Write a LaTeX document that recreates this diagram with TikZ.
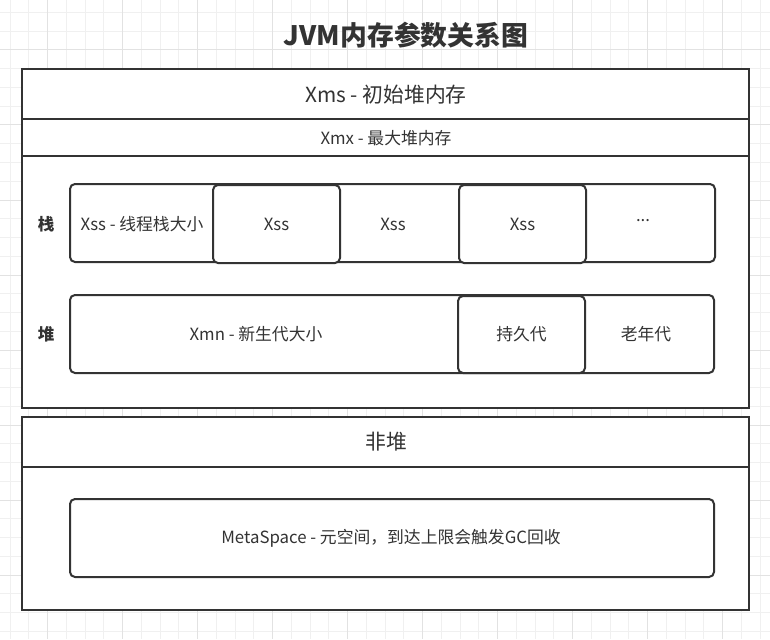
\documentclass[tikz,border=0pt]{standalone}
\usepackage{fontspec}
\setmainfont{Noto Sans CJK SC}
\begin{document}
\begin{tikzpicture}[x=1pt,y=-1pt,
  box/.style={draw=linec,line width=2pt,fill=white,inner sep=0pt,rectangle},
  rbox/.style={box,rounded corners=5pt},
  txt/.style={text=textc,font=\fontsize{16.8}{19}\selectfont},
  bigtxt/.style={text=textc,font=\fontsize{20.8}{24}\selectfont},
  lbl/.style={text=textc,font=\fontsize{16.5}{19}\selectfont\bfseries},
  minorgrid/.style={draw=gridminor,line width=1pt},
  majorgrid/.style={draw=gridmajor,line width=1pt}]
\definecolor{linec}{HTML}{333333}
\definecolor{textc}{HTML}{333333}
\definecolor{gridminor}{HTML}{F0F0F0}
\definecolor{gridmajor}{HTML}{E2E2E2}
\useasboundingbox (0,0) rectangle (770,639);
\fill[white] (0,0) rectangle (770,639);
% grid
\foreach \i in {0,...,40} {\draw[minorgrid] (10+\i*18.75,0) -- (10+\i*18.75,639);}
\foreach \i in {0,...,33} {\draw[minorgrid] (0,12.5+\i*18.75) -- (770,12.5+\i*18.75);}
\foreach \i in {0,...,9} {\draw[majorgrid] (47.5+\i*75,0) -- (47.5+\i*75,639);}
\foreach \i in {0,...,8} {\draw[majorgrid] (0,50+\i*75) -- (770,50+\i*75);}
% title
\node[text=textc,font=\fontsize{26.8}{30}\selectfont\bfseries] (title) at (406,35) {JVM内存参数关系图};
% heap box
\node[box,minimum width=727pt,minimum height=339pt] (jvm) at (385.5,238.5) {};
\node[box,minimum width=727pt,minimum height=50pt] (xms) at (385.5,94) {};
\node[bigtxt] (xmst) at (386,95) {Xms - 初始堆内存};
\node[box,minimum width=727pt,minimum height=37pt] (xmx) at (385.5,137.5) {};
\node[txt] (xmxt) at (386,138) {Xmx - 最大堆内存};
% stack row
\node[lbl] (zhan) at (46,224) {栈};
\node[rbox,minimum width=645pt,minimum height=78pt] (stack) at (392.5,223) {};
\node[txt] (xss0) at (142,224) {Xss - 线程栈大小};
\node[rbox,minimum width=127pt,minimum height=78pt] (xss1) at (276.5,224) {};
\node[txt] at (xss1) {Xss};
\node[txt] (xss2) at (393,224) {Xss};
\node[rbox,minimum width=127pt,minimum height=78pt] (xss3) at (522.5,224) {};
\node[txt] at (xss3) {Xss};
\node[txt] (dots) at (643,221) {...};
% heap row
\node[lbl] (dui) at (46,334) {堆};
\node[rbox,minimum width=644pt,minimum height=78pt] (heap) at (392,334) {};
\node[txt] (xmn) at (256,334) {Xmn - 新生代大小};
\node[rbox,minimum width=127pt,minimum height=77pt] (perm) at (521.5,334.5) {};
\node[txt] at (perm) {持久代};
\node[txt] (old) at (646,334) {老年代};
% non-heap
\node[box,minimum width=727pt,minimum height=193pt] (nonheap) at (385.5,513.5) {};
\node[box,minimum width=727pt,minimum height=50pt] (nhhead) at (385.5,442) {};
\node[bigtxt] (nht) at (386,442) {非堆};
\node[rbox,minimum width=644pt,minimum height=78pt] (meta) at (392,538) {};
\node[txt] at (391,538) {MetaSpace - 元空间，到达上限会触发GC回收};
\end{tikzpicture}
\end{document}
